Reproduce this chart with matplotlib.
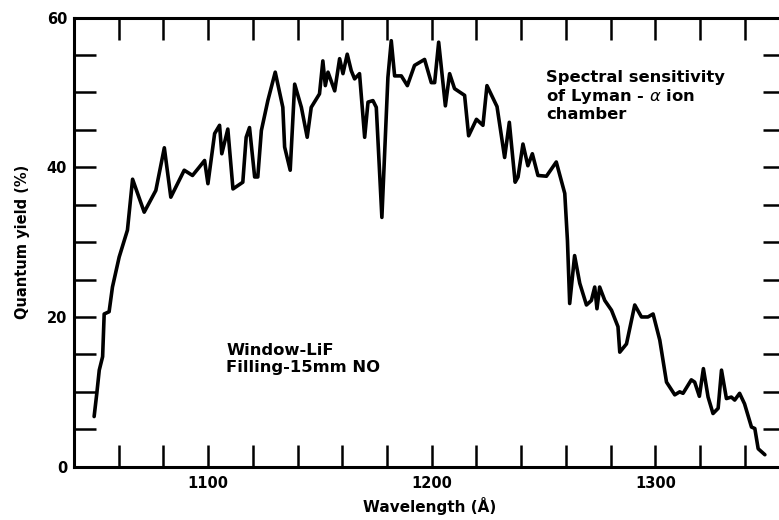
import matplotlib
matplotlib.use('Agg')
import matplotlib.pyplot as plt

# Quantum yield of the Lyman-alpha ion chamber (LiF window, 15 mm NO)
wavelength = [1049.0, 1050.2, 1051.3, 1052.8, 1053.5, 1055.7, 1057.2, 1060.2, 1063.9, 1066.2,
              1071.4, 1076.6, 1080.4, 1083.3, 1089.3, 1093.0, 1096.0, 1098.4, 1099.9, 1102.9,
              1105.1, 1106.1, 1108.8, 1111.1, 1115.5, 1117.0, 1118.5, 1120.8, 1122.2, 1123.8,
              1126.7, 1130.0, 1133.4, 1134.2, 1136.7, 1138.7, 1141.7, 1144.3, 1146.1, 1149.8,
              1151.3, 1152.4, 1153.6, 1156.6, 1158.8, 1160.3, 1162.2, 1164.0, 1165.5, 1167.7,
              1170.0, 1171.5, 1173.7, 1175.2, 1177.7, 1180.4, 1181.9, 1183.4, 1186.4, 1189.1,
              1192.3, 1196.8, 1199.8, 1201.3, 1203.1, 1206.1, 1208.0, 1210.2, 1214.7, 1216.5,
              1220.0, 1222.9, 1224.7, 1229.2, 1232.6, 1234.7, 1237.3, 1238.6, 1240.8, 1243.0,
              1245.0, 1247.5, 1251.3, 1255.7, 1259.5, 1260.7, 1261.7, 1263.9, 1266.2, 1269.2,
              1271.4, 1272.9, 1273.9, 1275.1, 1277.4, 1280.4, 1283.3, 1284.1, 1287.1, 1290.8,
              1293.8, 1296.7, 1299.0, 1302.0, 1305.0, 1308.7, 1310.9, 1312.4, 1316.1, 1317.6,
              1319.7, 1321.5, 1323.6, 1325.8, 1328.1, 1329.6, 1331.8, 1334.0, 1335.5, 1337.7,
              1339.9, 1343.0, 1344.5, 1346.0, 1349.0]
quantum_yield = [6.7, 9.8, 12.9, 14.7, 20.4, 20.7, 24.0, 28.0, 31.6, 38.4,
                 34.0, 36.9, 42.6, 36.0, 39.6, 38.9, 40.0, 40.9, 37.8, 44.5,
                 45.6, 41.8, 45.1, 37.1, 38.0, 44.0, 45.3, 38.7, 38.7, 44.9,
                 48.9, 52.7, 48.0, 42.7, 39.6, 51.1, 48.0, 44.0, 48.0, 49.8,
                 54.2, 50.9, 52.7, 50.2, 54.5, 52.5, 55.1, 52.9, 51.8, 52.5,
                 44.0, 48.7, 48.9, 48.0, 33.3, 52.0, 56.9, 52.2, 52.2, 50.9,
                 53.6, 54.4, 51.3, 51.3, 56.7, 48.2, 52.5, 50.5, 49.6, 44.2,
                 46.4, 45.6, 50.9, 48.1, 41.3, 46.0, 38.0, 38.7, 43.1, 40.2,
                 41.8, 38.9, 38.8, 40.7, 36.5, 30.2, 21.8, 28.2, 24.5, 21.6,
                 22.2, 24.0, 21.1, 24.0, 22.2, 20.9, 18.7, 15.3, 16.4, 21.6,
                 20.0, 20.0, 20.4, 16.9, 11.3, 9.6, 10.0, 9.8, 11.6, 11.3,
                 9.4, 13.1, 9.3, 7.1, 7.8, 12.9, 9.1, 9.3, 8.9, 9.8,
                 8.4, 5.3, 5.1, 2.4, 1.6]

x_ticks = list(range(1060, 1341, 20))
x_labels = {1100: '1100', 1200: '1200', 1300: '1300'}
y_ticks = list(range(0, 61, 5))
y_labels = {0: '0', 20: '20', 40: '40', 60: '60'}

fig = plt.figure(figsize=(7.79, 5.2), dpi=100)
# right spine sits just past the image edge, as in the cropped original
ax = fig.add_axes([74 / 779, 53.3 / 520, 711 / 779, 449.2 / 520])

ax.plot(wavelength, quantum_yield, color='black', lw=2.6,
        solid_joinstyle='round', solid_capstyle='round')

ax.set_xlim(1040, 1358)
ax.set_ylim(0, 60)

for s in ax.spines.values():
    s.set_linewidth(2.2)

ax.set_xticks(x_ticks)
ax.set_xticklabels([x_labels.get(t, '') for t in x_ticks])
ax.set_yticks(y_ticks)
ax.set_yticklabels([y_labels.get(t, '') for t in y_ticks])
ax.tick_params(axis='x', direction='in', top=True, bottom=True, length=15.5,
               width=1.8, pad=7, labelsize=10.5)
ax.tick_params(axis='y', direction='in', left=True, right=True, length=16,
               width=1.8, pad=5, labelsize=10.5)
for lab in ax.get_xticklabels() + ax.get_yticklabels():
    lab.set_fontweight('bold')

ax.set_xlabel('Wavelength (Å)', fontsize=11, fontweight='bold', labelpad=4)
ax.set_ylabel('Quantum yield (%)', fontsize=10.5, fontweight='bold', labelpad=12)

ax.text(1108.2, 14.4, 'Window-LiF\nFilling-15mm NO', fontsize=11.8, fontweight='bold',
        ha='left', va='center', linespacing=1.15)
ax.text(1251.0, 49.5, 'Spectral sensitivity\nof Lyman - $\\alpha$ ion\nchamber', fontsize=11.8,
        fontweight='bold', ha='left', va='center', linespacing=1.1)

fig.savefig('out.png', dpi=100)
